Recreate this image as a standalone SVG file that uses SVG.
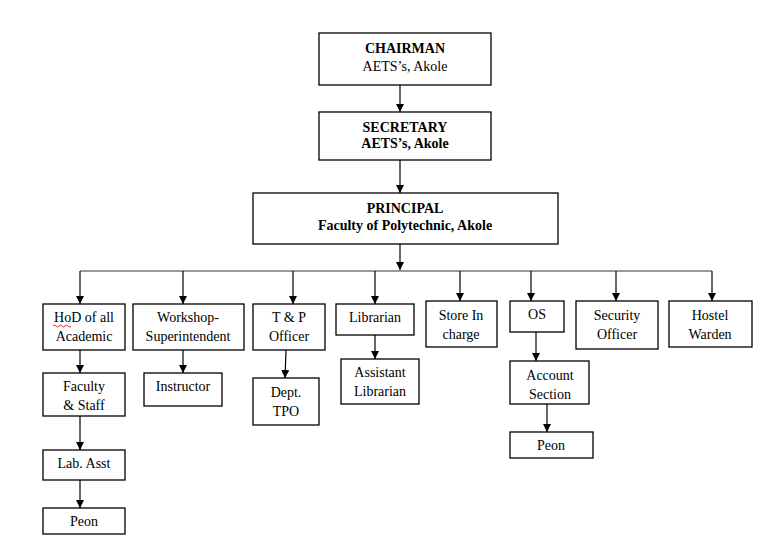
<svg xmlns="http://www.w3.org/2000/svg" width="765" height="555" viewBox="0 0 765 555">
<style>
rect{fill:#fff;stroke:#000;stroke-width:1.3}
text{font-family:"Liberation Serif",serif;font-size:14px;text-anchor:middle;fill:#000}
.b{font-weight:bold}
.c{stroke:#000;stroke-width:1.2;fill:none}
.bus{stroke:#777;stroke-width:1.5;fill:none}
</style>
<defs><marker id="a" viewBox="0 0 10 10" refX="10" refY="5" markerWidth="8" markerHeight="8" markerUnits="userSpaceOnUse" orient="auto"><path d="M0,0L10,5L0,10z" fill="#000"/></marker></defs>
<rect width="765" height="555" style="stroke:none"/>
<g id="connectors">
<path class="c" d="M400,85V112" marker-end="url(#a)"/>
<path class="c" d="M400,160V193" marker-end="url(#a)"/>
<path class="c" d="M400,244V270" marker-end="url(#a)"/>
<path class="bus" d="M80,271H712"/>
<path class="c" d="M80,271V304" marker-end="url(#a)"/>
<path class="c" d="M183,271V304" marker-end="url(#a)"/>
<path class="c" d="M293,271V304" marker-end="url(#a)"/>
<path class="c" d="M375,271V304" marker-end="url(#a)"/>
<path class="c" d="M460,271V301" marker-end="url(#a)"/>
<path class="c" d="M531,271V301" marker-end="url(#a)"/>
<path class="c" d="M616,271V301" marker-end="url(#a)"/>
<path class="c" d="M712,271V301" marker-end="url(#a)"/>
<path class="c" d="M80,350V373" marker-end="url(#a)"/>
<path class="c" d="M80,416V450" marker-end="url(#a)"/>
<path class="c" d="M80,480V508" marker-end="url(#a)"/>
<path class="c" d="M183,350V373" marker-end="url(#a)"/>
<path class="c" d="M286,350L285,378" marker-end="url(#a)"/>
<path class="c" d="M375,335V359" marker-end="url(#a)"/>
<path class="c" d="M536,332V361" marker-end="url(#a)"/>
<path class="c" d="M547,404V432" marker-end="url(#a)"/>
</g>
<g id="chairman"><rect x="319" y="33" width="172" height="52"/><text class="b" x="405" y="53">CHAIRMAN</text><text x="405" y="71">AETS’s, Akole</text></g>
<g id="secretary"><rect x="319" y="112" width="172" height="48"/><text class="b" x="405" y="132">SECRETARY</text><text class="b" x="405" y="148">AETS’s, Akole</text></g>
<g id="principal"><rect x="253" y="193" width="305" height="51"/><text class="b" x="405" y="213">PRINCIPAL</text><text class="b" x="405" y="230">Faculty of Polytechnic, Akole</text></g>
<g id="hod"><rect x="43" y="304" width="82" height="46"/><text x="84" y="322">HoD of all</text><text x="84" y="341">Academic</text><path d="M53,326q1.5,-2 3,0t3,0t3,0t3,0t3,0t3,0" stroke="#c00" stroke-width="0.8" fill="none"/></g>
<g id="workshop"><rect x="133" y="304" width="111" height="46"/><text x="188" y="322">Workshop-</text><text x="188" y="341">Superintendent</text></g>
<g id="tp"><rect x="253" y="304" width="72" height="46"/><text x="289" y="322">T &amp; P</text><text x="289" y="341">Officer</text></g>
<g id="librarian"><rect x="336" y="304" width="78" height="31"/><text x="375" y="322">Librarian</text></g>
<g id="store"><rect x="426" y="301" width="71" height="46"/><text x="461" y="320">Store In</text><text x="461" y="339">charge</text></g>
<g id="os"><rect x="510" y="301" width="54" height="31"/><text x="537" y="319">OS</text></g>
<g id="security"><rect x="576" y="301" width="82" height="48"/><text x="617" y="320">Security</text><text x="617" y="339">Officer</text></g>
<g id="hostel"><rect x="669" y="301" width="83" height="46"/><text x="710" y="320">Hostel</text><text x="710" y="339">Warden</text></g>
<g id="faculty"><rect x="43" y="373" width="82" height="43"/><text x="84" y="391">Faculty</text><text x="84" y="410">&amp; Staff</text></g>
<g id="instructor"><rect x="144" y="373" width="78" height="33"/><text x="183" y="391">Instructor</text></g>
<g id="tpo"><rect x="253" y="378" width="66" height="47"/><text x="286" y="397">Dept.</text><text x="286" y="416">TPO</text></g>
<g id="asstlib"><rect x="341" y="359" width="78" height="45"/><text x="380" y="377">Assistant</text><text x="380" y="396">Librarian</text></g>
<g id="account"><rect x="510" y="361" width="79" height="43"/><text x="550" y="380">Account</text><text x="550" y="399">Section</text></g>
<g id="peon2"><rect x="510" y="432" width="83" height="26"/><text x="551" y="450">Peon</text></g>
<g id="labasst"><rect x="43" y="450" width="82" height="30"/><text x="84" y="468">Lab. Asst</text></g>
<g id="peon1"><rect x="43" y="508" width="82" height="26"/><text x="84" y="526">Peon</text></g>
</svg>
